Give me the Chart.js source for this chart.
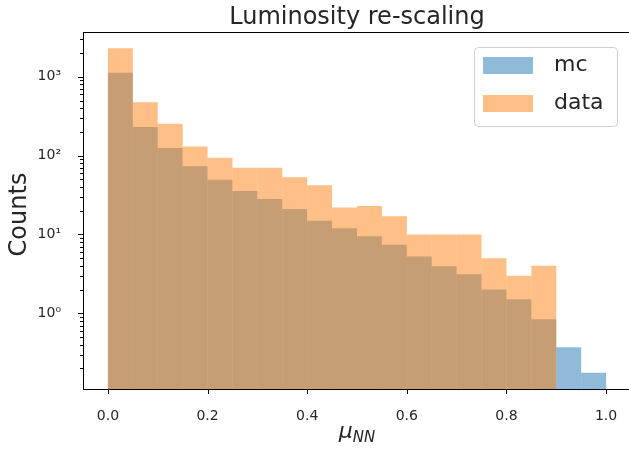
<!DOCTYPE html>
<html>
<head>
<meta charset="utf-8">
<script src="https://cdn.jsdelivr.net/npm/chart.js@4"></script>
<style>
  html, body { margin: 0; padding: 0; background: #fff; overflow: hidden; }
  #wrap { width: 631px; height: 455px; }
</style>
</head>
<body>
<div id="wrap"><canvas id="hist" width="631" height="455"></canvas></div>
<script>
// bin centres, 20 bins of width 0.05 between 0 and 1
const binCenters = [0.025, 0.075, 0.125, 0.175, 0.225, 0.275, 0.325, 0.375, 0.425, 0.475,
                    0.525, 0.575, 0.625, 0.675, 0.725, 0.775, 0.825, 0.875, 0.925, 0.975];
const mcCounts = [1125, 231, 125, 73.5, 49.6, 35.6, 28.2, 21, 14.9, 12.0,
                  9.46, 7.4, 5.25, 3.95, 3.13, 2.01, 1.51, 0.84, 0.372, 0.176];
const dataCounts = [2300, 474, 254, 131, 94, 70, 70, 53, 42, 22,
                    23, 17, 10, 10, 10, 5, 3, 4, null, null];
const xTicks = [0.0, 0.2, 0.4, 0.6, 0.8, 1.0];
const yDecades = [1, 10, 100, 1000];
const superscripts = { "0": "⁰", "1": "¹", "2": "²", "3": "³" };

const mcColor = "rgba(31,119,180,0.5)";
const dataColor = "rgba(255,127,14,0.5)";
const textColor = "#262626";
const FONT = "'DejaVu Sans', sans-serif";

function toPoints(values) {
  return binCenters.map((x, i) => ({ x: x, y: values[i] }));
}

const decorations = {
  id: "decorations",
  afterDraw(chart) {
    const ctx = chart.ctx;
    const area = chart.chartArea;
    const xs = chart.scales.x;
    const ys = chart.scales.y;
    ctx.save();

    // frame
    ctx.strokeStyle = "#000";
    ctx.lineWidth = 1;
    ctx.strokeRect(area.left + 0.5, area.top + 0.5, area.right - area.left, area.bottom - area.top);

    // x ticks
    xTicks.forEach(v => {
      let px = Math.round(xs.getPixelForValue(v)) + 0.5;
      ctx.beginPath();
      ctx.moveTo(px, area.bottom);
      ctx.lineTo(px, area.bottom + 5);
      ctx.stroke();
    });

    // y ticks, major and minor
    for (let d = 0.1; d <= 1000; d *= 10) {
      for (let m = 1; m <= 9; m++) {
        let v = d * m;
        if (v < ys.min || v > ys.max) continue;
        let py = Math.round(ys.getPixelForValue(v)) + 0.5;
        ctx.beginPath();
        ctx.moveTo(area.left - (m === 1 ? 5 : 3), py);
        ctx.lineTo(area.left, py);
        ctx.stroke();
      }
    }

    ctx.fillStyle = textColor;

    // title
    ctx.font = "24px " + FONT;
    ctx.textAlign = "center";
    ctx.textBaseline = "alphabetic";
    let cx = (area.left + area.right) / 2;
    ctx.fillText("Luminosity re-scaling", cx, 24);

    // y label
    ctx.save();
    ctx.translate(25.5, (area.top + area.bottom) / 2 + 4);
    ctx.rotate(-Math.PI / 2);
    ctx.fillText("Counts", 0, 0);
    ctx.restore();

    // x label: mu with subscript NN
    ctx.font = "italic 22px " + FONT;
    let wMu = ctx.measureText("μ").width;
    ctx.font = "italic 15px " + FONT;
    let wSub = ctx.measureText("NN").width;
    let start = cx - (wMu + wSub) / 2;
    ctx.textAlign = "left";
    ctx.font = "italic 22px " + FONT;
    ctx.fillText("μ", start, 438);
    ctx.font = "italic 15px " + FONT;
    ctx.fillText("NN", start + wMu, 442);

    // legend
    ctx.fillStyle = "rgba(255,255,255,0.8)";
    ctx.strokeStyle = "#d0d0d0";
    ctx.beginPath();
    ctx.roundRect(474.5, 47.5, 143, 79, 4);
    ctx.fill();
    ctx.stroke();
    const items = [["mc", mcColor, 57], ["data", dataColor, 95]];
    items.forEach(([label, color, y]) => {
      ctx.fillStyle = color;
      ctx.fillRect(483, y, 50, 17);
      ctx.fillStyle = textColor;
      ctx.font = "22px " + FONT;
      ctx.textBaseline = "middle";
      ctx.fillText(label, 554, y + 8.5);
    });

    ctx.restore();
  }
};

new Chart("hist", {
  type: "bar",
  data: {
    datasets: [
      {
        label: "mc",
        data: toPoints(mcCounts),
        backgroundColor: mcColor,
        borderWidth: 0,
        inflateAmount: 0,
        grouped: false,
        barPercentage: 1,
        categoryPercentage: 1,
        order: 2
      },
      {
        label: "data",
        data: toPoints(dataCounts),
        backgroundColor: dataColor,
        borderWidth: 0,
        inflateAmount: 0,
        grouped: false,
        barPercentage: 1,
        categoryPercentage: 1,
        order: 1
      }
    ]
  },
  options: {
    responsive: false,
    maintainAspectRatio: false,
    devicePixelRatio: 1,
    animation: false,
    layout: { padding: { top: 32, left: 0, right: 0, bottom: 0 } },
    plugins: {
      legend: { display: false },
      tooltip: { enabled: false },
      title: { display: false }
    },
    scales: {
      x: {
        type: "linear",
        min: -0.05,
        max: 1.05,
        offset: false,
        grid: { display: false },
        border: { display: false },
        ticks: {
          padding: 11,
          color: textColor,
          font: { family: FONT, size: 14 },
          callback: v => v.toFixed(1)
        },
        afterBuildTicks: scale => {
          scale.ticks = xTicks.map(v => ({ value: v }));
        },
        afterFit: scale => { scale.height = 66; }
      },
      y: {
        type: "logarithmic",
        min: 0.1096,
        max: 3700,
        grid: { display: false },
        border: { display: false },
        ticks: {
          padding: 14,
          color: textColor,
          font: { family: FONT, size: 14 },
          autoSkip: false,
          callback: v => "10" + superscripts[String(Math.round(Math.log10(v)))]
        },
        afterBuildTicks: scale => {
          scale.ticks = yDecades.map(v => ({ value: v }));
        },
        afterFit: scale => { scale.width = 83; }
      }
    }
  },
  plugins: [decorations]
});
</script>
</body>
</html>
